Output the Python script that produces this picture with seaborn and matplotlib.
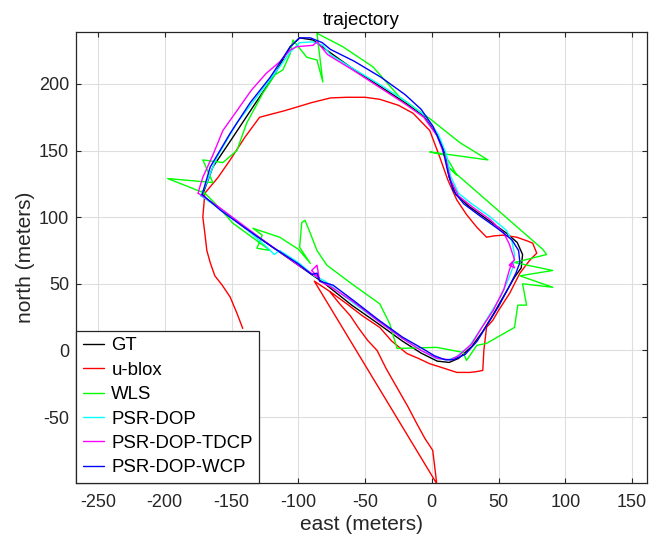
import numpy as np
import pandas as pd
import matplotlib
matplotlib.use("Agg")
import matplotlib.pyplot as plt
import seaborn as sns

# ---------------- data (east, north in meters) ----------------
series_names = ["GT", "u-blox", "WLS", "PSR-DOP", "PSR-DOP-TDCP", "PSR-DOP-WCP"]
series_colors = ["#000000", "#FF0000", "#00FF00", "#00FFFF", "#FF00FF", "#0000FF"]

gt_e = [-172, -164, -149, -134, -119, -106, -99, -89, -79, -60, -40, -20, -6, 4, 10, 13, 18, 28, 42, 56, 64, 68, 67, 62, 54, 46, 38, 30, 20, 13, 4, -8, -22, -40, -60, -80, -100, -120, -140, -158, -172]
gt_n = [116, 137.6, 160, 182.7, 205, 228, 234.6, 233, 225.6, 212, 199, 186, 176, 162, 148, 130, 117, 108, 98, 88, 81, 72, 62, 55, 41, 27, 14, 3, -6, -9, -8, -2, 7, 20, 34, 50, 64, 78, 92, 106, 116]

ublox_e = [-141.6, -146, -151, -157, -162.5, -166, -168.5, -170, -171.5, -170, -160, -151, -140, -129, -110, -90, -76, -64, -50, -39, -25, -14, -1.5, 6, 12, 18.7, 26, 33.7, 41, 47, 53, 63.6, 72, 75.6, 78.6, 73.4, 66, 58.4, 50, 45.7, 41, 39, 38.2, 33, 28.5, 18.7, 8, -1.5, -10, -18.7, -30, -39, -52, -63.7, -76, -88, 3.7, 0.7, -5.2, -11.2, -18, -26, -34, -41, -48, -55, -61, -69, -76]
ublox_n = [16.5, 28, 40, 49, 56, 66, 75, 88, 100, 118, 130, 143, 160, 175, 180, 186, 189.5, 190, 190, 188.5, 184, 178, 165, 145, 128, 113, 102, 92.5, 85, 86, 86.5, 85, 82, 80.5, 73, 67.7, 58, 43, 30, 22.6, 17.3, 0, -15, -16, -16.5, -16.5, -13, -10, -6, -2.3, 7, 17.3, 26, 35, 44, 52, -100, -75, -66, -55, -42, -28, -14, 0, 7.5, 17, 26, 35, 43.6]

wls_e = [-172, -170, -197.8, -164, -171.5, -156.5, -146, -138.6, -126.6, -117.6, -111.6, -106, -104, -100, -93.6, -86, -81.6, -86, -66.7, -44, -24, -1.5, 21, 42, -1.5, 9.7, 14, 18.7, 12, 83, 86, 78, 62, 90.6, 66, 90.6, 68, 71, 64.4, 62, 41, 33.7, 26, 23.5, 3.7, -26, -31.5, -39, -60, -78.6, -86, -91, -95, -97.4, -99, -91, -100, -114, -134, -127, -131, -121, -149, -160, -172]
wls_n = [116, 118, 129, 126, 143, 141, 150, 170.7, 193, 206.8, 210.5, 223, 233, 228, 220, 218, 201.5, 238, 228, 212.8, 190, 174, 156, 143, 149, 146.6, 140, 131.6, 138, 76, 72, 70, 66, 60, 56, 47.4, 50, 34, 34, 17.3, 5.3, 3.8, -7.5, -1.5, 2.3, 1.5, 20, 35, 50, 64, 75, 88, 97.7, 96, 77.4, 65.4, 76, 85, 91.7, 86.5, 76.7, 75, 95.5, 108, 120]

psr_e = [-173, -170, -161, -146, -129, -114, -106, -99, -89, -81.6, -76, -58, -38, -18, -5, 5, 11, 14, 20, 30, 44, 56, 60, 62, 61, 58, 52, 44, 36, 28, 18, 12, 3, -8, -22, -40, -58, -70, -80, -88, -100, -114, -118, -124, -140, -158, -173]
psr_n = [116, 122.6, 145, 170.7, 193, 212.8, 224, 231, 231.6, 229, 222, 211, 199, 186, 176, 162, 147, 131, 118, 110, 100, 90, 82, 72, 63, 55, 41, 28, 15, 3, -5, -7, -6, 0, 9, 22, 35, 44, 52, 56, 66, 75, 72, 78, 92, 106, 116]

tdcp_e = [-175, -174, -171.5, -164, -156.5, -144, -135, -124, -114, -106, -101, -89, -86, -78, -60, -40, -20, -6, 4, 10, 14, 20, 30, 44, 54, 58, 62, 58, 62, 60, 58, 54, 46, 38, 30, 20, 14, 4, -8, -22, -40, -58, -76, -84, -86, -90, -84, -100, -114, -128, -144, -160, -175]
tdcp_n = [118, 122, 130, 146.6, 165, 182.7, 195.5, 208, 216.5, 225.6, 228, 229, 231.6, 222, 211, 198, 185, 175, 161, 145, 128, 116, 108, 98, 88, 80, 68, 64, 62, 66, 60, 46, 30, 18, 5, -4, -7, -6, 0, 9, 22, 36, 48, 52, 64, 60, 54, 64, 74, 84, 96, 108, 118]

wcp_e = [-172, -166, -151, -136, -121, -106, -99, -91, -82, -76, -58, -38, -20, -8, 1, 8, 12, 16, 24, 36, 50, 60, 65, 66, 63, 58, 50, 42, 34, 25, 16, 10, 2, -8, -22, -40, -58, -74, -84, -86, -90, -100, -120, -140, -158, -172]
wcp_n = [117, 137.6, 163, 186, 205, 228, 234.6, 234.6, 231, 226, 217, 205, 192, 181, 168, 152, 134, 120, 110, 101, 91, 83, 75, 66, 58, 48, 33, 20, 7, -3, -7, -7, -4, 2, 10, 23, 37, 49, 52, 58, 57, 65, 78, 92, 105, 117]

x_ticks = [-250, -200, -150, -100, -50, 0, 50, 100, 150]
y_ticks = [-50, 0, 50, 100, 150, 200]

# ---------------- build long table ----------------
all_e = [gt_e, ublox_e, wls_e, psr_e, tdcp_e, wcp_e]
all_n = [gt_n, ublox_n, wls_n, psr_n, tdcp_n, wcp_n]
frames = []
for name, e, n in zip(series_names, all_e, all_n):
    frames.append(pd.DataFrame({"east": e, "north": n, "series": name,
                                "order": np.arange(len(e))}))
df = pd.concat(frames, ignore_index=True)

# ---------------- style ----------------
sns.set_style("ticks")
plt.rcParams["font.family"] = ["Liberation Sans", "DejaVu Sans"]
plt.rcParams["axes.unicode_minus"] = False
text_col = "#262626"

fig = plt.figure(figsize=(6.59, 5.38), dpi=100)
ax = fig.add_axes([76 / 659, 1 - 483 / 538, 571 / 659, 451 / 538])

palette = dict(zip(series_names, series_colors))
sns.lineplot(data=df, x="east", y="north", hue="series", hue_order=series_names,
             palette=palette, sort=False, estimator=None, units="series",
             linewidth=1.0, ax=ax, legend=False)

ax.set_xlim(-266.5, 161.2)
ax.set_ylim(-99.5, 239)
ax.set_xticks(x_ticks)
ax.set_yticks(y_ticks)
ax.grid(True, color="#dedede", linewidth=0.8)
ax.set_axisbelow(True)
ax.tick_params(direction="in", top=True, right=True, length=3.5, width=0.8,
               labelsize=13, colors=text_col, labelcolor=text_col)
ax.tick_params(axis="x", pad=8)
ax.tick_params(axis="y", pad=5)
for sp in ax.spines.values():
    sp.set_color(text_col)
    sp.set_linewidth(0.9)
    sp.set_visible(True)

ax.set_title("trajectory", fontsize=13.5, color="black", pad=5)
ax.set_xlabel("east (meters)", fontsize=15, color=text_col, labelpad=3)
ax.set_ylabel("north (meters)", fontsize=15, color=text_col, labelpad=3)

handles = [plt.Line2D([], [], color=c, linewidth=1.0) for c in series_colors]
leg = ax.legend(handles, series_names, loc="lower left", bbox_to_anchor=(0, 0),
                borderaxespad=0, fontsize=13.4, frameon=True, fancybox=False,
                handlelength=1.15, handletextpad=0.4, labelspacing=0.4,
                borderpad=0.35)
for t in leg.get_texts():
    t.set_color("black")
leg.get_frame().set_edgecolor(text_col)
leg.get_frame().set_linewidth(0.9)
leg.get_frame().set_alpha(1.0)

fig.savefig("out.png", dpi=100)
